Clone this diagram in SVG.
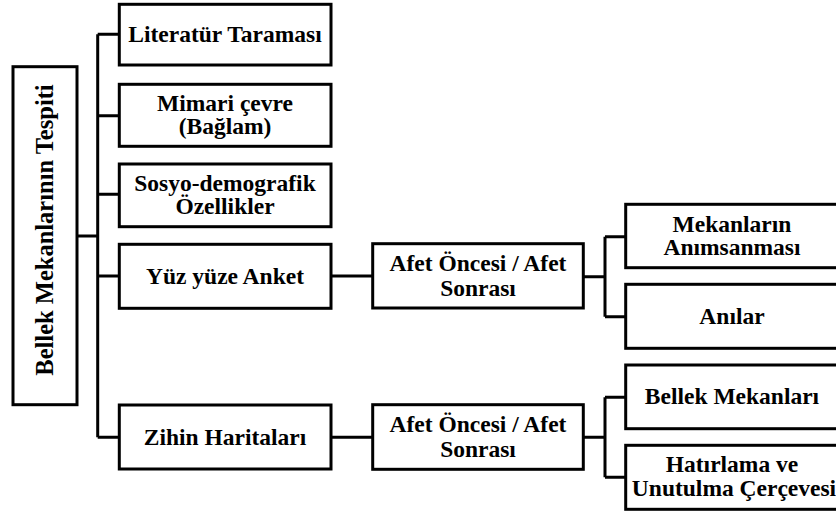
<svg xmlns="http://www.w3.org/2000/svg" width="836" height="515" viewBox="0 0 836 515">
<style>
.box{fill:#fff;stroke:#000;stroke-width:3}
.ln{fill:none;stroke:#000;stroke-width:3}
.t{font-family:'Liberation Serif','Times New Roman',serif;font-weight:700;font-size:23.5px;fill:#000;text-anchor:middle}
.root{font-size:24.5px}
</style>
<rect width="836" height="515" fill="#fff"/>
<g id="connectors">
<path class="ln" d="M77 236H97.7M97.7 34.3V437.3M97.7 34.3H119.3M97.7 115.7H119.3M97.7 194.3H119.3M97.7 276H119.3M97.7 437.3H119.3"/>
<path class="ln" d="M331 276H372.7M331 437.3H372.7"/>
<path class="ln" d="M583.3 276.7H605M605 236.7V316.7M605 236.7H625.7M605 316.7H625.7"/>
<path class="ln" d="M583.3 437.3H605M605 397.3V477.3M605 397.3H625.7M605 477.3H625.7"/>
</g>
<g id="root">
<rect class="box" x="13" y="66.7" width="64" height="338"/>
<text class="t root" transform="translate(53 230) rotate(-90)">Bellek Mekanlarının Tespiti</text>
</g>
<g id="n1">
<rect class="box" x="119.3" y="4.3" width="211.7" height="60.7"/>
<text class="t" x="225" y="42">Literatür Taraması</text>
</g>
<g id="n2">
<rect class="box" x="119.3" y="84.3" width="211.7" height="62"/>
<text class="t" x="225" y="110.5">Mimari çevre</text>
<text class="t" x="225" y="134">(Bağlam)</text>
</g>
<g id="n3">
<rect class="box" x="119.3" y="164" width="211.7" height="62.7"/>
<text class="t" x="225" y="190.5">Sosyo-demografik</text>
<text class="t" x="225" y="214">Özellikler</text>
</g>
<g id="n4">
<rect class="box" x="119.3" y="244.3" width="211.7" height="64"/>
<text class="t" x="225" y="284">Yüz yüze Anket</text>
</g>
<g id="n5">
<rect class="box" x="119.3" y="405" width="211.7" height="64"/>
<text class="t" x="225" y="444.5">Zihin Haritaları</text>
</g>
<g id="m1">
<rect class="box" x="372.7" y="243.7" width="210.6" height="64.3"/>
<text class="t" x="478" y="271">Afet Öncesi / Afet</text>
<text class="t" x="478" y="296">Sonrası</text>
</g>
<g id="m2">
<rect class="box" x="372.7" y="404.7" width="210.6" height="64.6"/>
<text class="t" x="478" y="432">Afet Öncesi / Afet</text>
<text class="t" x="478" y="457">Sonrası</text>
</g>
<g id="r1">
<rect class="box" x="625.7" y="204.3" width="212" height="63.4"/>
<text class="t" x="732" y="231.5">Mekanların</text>
<text class="t" x="732" y="255">Anımsanması</text>
</g>
<g id="r2">
<rect class="box" x="625.7" y="284.3" width="212" height="64"/>
<text class="t" x="732" y="323.5">Anılar</text>
</g>
<g id="r3">
<rect class="box" x="625.7" y="365" width="212" height="63.7"/>
<text class="t" x="732" y="403.5">Bellek Mekanları</text>
</g>
<g id="r4">
<rect class="box" x="625.7" y="445.3" width="212" height="64"/>
<text class="t" x="732" y="472">Hatırlama ve</text>
<text class="t" x="734" y="496">Unutulma Çerçevesi</text>
</g>
</svg>
